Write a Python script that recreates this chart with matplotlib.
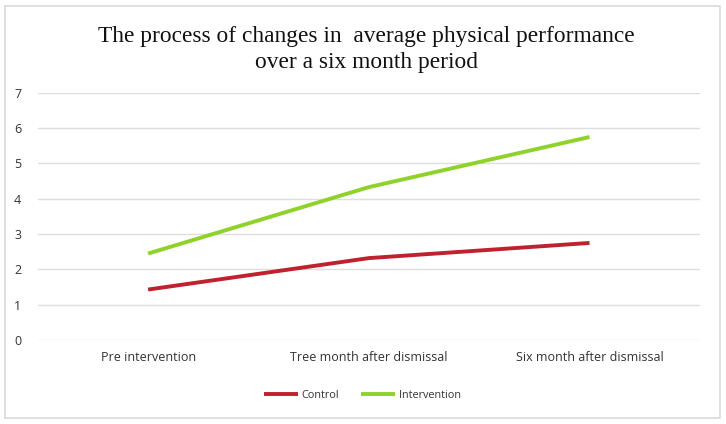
import matplotlib
matplotlib.use("Agg")
import matplotlib.pyplot as plt
from matplotlib.patches import Rectangle

categories = ["Pre intervention", "Tree month after dismissal", "Six month after dismissal"]
control = [1.43, 2.32, 2.75]
intervention = [2.45, 4.33, 5.75]
yticks = [0, 1, 2, 3, 4, 5, 6, 7]
title = "The process of changes in  average physical performance\nover a six month period"

fig = plt.figure(figsize=(7.26, 4.24), dpi=100)
fig.patch.set_facecolor("white")
fig.patches.append(Rectangle((0.007, 0.014), 0.985, 0.972, transform=fig.transFigure,
                             fill=False, edgecolor="#d9d9d9", linewidth=1.2))

ax = fig.add_axes([0.052, 0.198, 0.912, 0.583])
x = list(range(len(categories)))
ax.plot(x, control, color="#C0212F", linewidth=2.8, label="Control", solid_capstyle="butt")
ax.plot(x, intervention, color="#8FD22C", linewidth=2.8, label="Intervention", solid_capstyle="butt")

ax.set_xlim(-0.5, 2.5)
ax.set_ylim(0, 7)
ax.set_yticks(yticks)
ax.set_yticklabels([str(t) for t in yticks], fontsize=9, color="#333333", family="Open Sans")
ax.set_xticks(x)
ax.set_xticklabels(categories, fontsize=9, color="#333333", family="Open Sans")
ax.tick_params(axis="both", length=0)
ax.tick_params(axis="y", pad=12)
ax.tick_params(axis="x", pad=8)
ax.grid(axis="y", color="#dedede", linewidth=1)
ax.set_axisbelow(True)
for s in ax.spines.values():
    s.set_visible(False)

fig.text(0.505, 0.884, title, ha="center", va="center", fontsize=16.8,
         family="Liberation Serif", color="#111111", linespacing=1.3)

leg = ax.legend(loc="center", bbox_to_anchor=(0.49, -0.225), ncol=2, frameon=False,
                prop={"family": "Open Sans", "size": 7.8}, handlelength=3.2,
                columnspacing=2.0, handletextpad=0.3)
for t in leg.get_texts():
    t.set_color("#333333")

fig.savefig("out.png", dpi=100)
